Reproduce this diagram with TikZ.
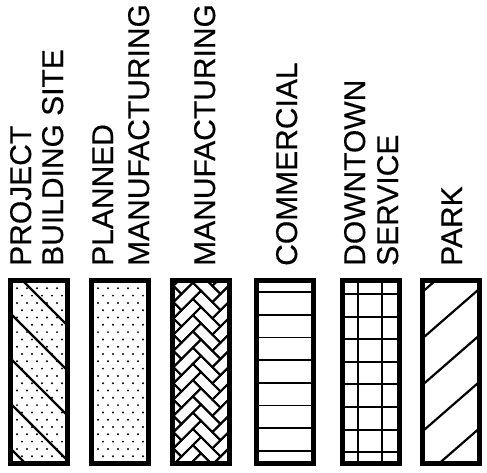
\documentclass[tikz,border=0pt]{standalone}
\usepackage{fontspec}
\setmainfont{Liberation Sans}[FakeBold=0.4]
\begin{document}
\begin{tikzpicture}[x=1pt,y=-1pt,
  lbl/.style={rotate=90,anchor=base west,inner sep=0pt,font=\fontsize{30}{34}\selectfont},
  frame/.style={draw=black,line width=5pt,fill=none},
  hatch/.style={line width=2.3pt,line cap=butt},
  dot/.style={fill=black}]
\useasboundingbox (0,0) rectangle (487,472);

% ---------- labels ----------
\node[lbl] (t1a) at (31,266) {PROJECT};
\node[lbl] (t1b) at (63,266) {BUILDING SITE};
\node[lbl] (t2a) at (113,266) {PLANNED};
\node[lbl] (t2b) at (149,266) {MANUFACTURING};
\node[lbl] (t3) at (215,266) {MANUFACTURING};
\node[lbl] (t4) at (297,266) {COMMERCIAL};
\node[lbl] (t5a) at (365,266) {DOWNTOWN};
\node[lbl] (t5b) at (398,266) {SERVICE};
\node[lbl] (t6) at (462,266) {PARK};

% ---------- box 1: project building site ----------
\begin{scope}[shift={(8,278)}]
  \begin{scope}
    \clip (5,5) rectangle (57,183);
    \foreach \r in {0,...,25}{
      \pgfmathsetmacro{\vv}{3+\r*7.3}
      \pgfmathsetmacro{\oo}{mod(\r,2)*5}
      \foreach \c in {0,...,6}{
        \fill[dot] ({4+\oo+\c*10},\vv) circle (1.1);
      }
    }
    \foreach \k in {0,...,4}{
      \pgfmathsetmacro{\cc}{12-45*\k}
      \draw[hatch] (\cc,0) -- ({\cc+220},220);
    }
  \end{scope}
  \draw[frame] (2.5,2.5) rectangle (59.5,185.5);
\end{scope}

% ---------- box 2: planned manufacturing ----------
\begin{scope}[shift={(89,278)}]
  \begin{scope}
    \clip (5,5) rectangle (57,183);
    \foreach \r in {0,...,25}{
      \pgfmathsetmacro{\vv}{3+\r*7.3}
      \pgfmathsetmacro{\oo}{mod(\r,2)*5}
      \foreach \c in {0,...,6}{
        \fill[dot] ({4+\oo+\c*10},\vv) circle (1.1);
      }
    }
  \end{scope}
  \draw[frame] (2.5,2.5) rectangle (59.5,185.5);
\end{scope}

% ---------- box 3: manufacturing (herringbone) ----------
\begin{scope}[shift={(170,278)}]
  \begin{scope}
    \clip (5,5) rectangle (57,183);
    \begin{scope}[shift={(31,94)},rotate=-45]
      \foreach \i in {-12,...,12}{
        \foreach \j in {-5,...,5}{
          \pgfmathsetmacro{\ox}{11.5*\i+27.6*\j}
          \pgfmathsetmacro{\oy}{11.5*\i-27.6*\j}
          \draw[line width=2pt] (\ox,\oy) rectangle ({\ox+27.6},{\oy+11.5});
          \draw[line width=2pt] (\ox,{\oy+11.5}) rectangle ({\ox+11.5},{\oy+39.1});
        }
      }
    \end{scope}
  \end{scope}
  \draw[frame] (2.5,2.5) rectangle (59.5,185.5);
\end{scope}

% ---------- box 4: commercial ----------
\begin{scope}[shift={(254,278)}]
  \foreach \k in {0,...,7}{
    \draw[line width=1.6pt] (4,{14+22.7*\k}) -- (58,{14+22.7*\k});
  }
  \draw[frame] (2.5,2.5) rectangle (59.5,185.5);
\end{scope}

% ---------- box 5: downtown service ----------
\begin{scope}[shift={(340,278)}]
  \foreach \k in {0,...,7}{
    \draw[line width=2pt] (4,{16+22.6*\k}) -- (58,{16+22.6*\k});
  }
  \draw[line width=2pt] (18,4) -- (18,184);
  \draw[line width=2pt] (42,4) -- (42,184);
  \draw[frame] (2.5,2.5) rectangle (59.5,185.5);
\end{scope}

% ---------- box 6: park ----------
\begin{scope}[shift={(420,278)}]
  \begin{scope}
    \clip (5,5) rectangle (57,183);
    \foreach \k in {0,...,4}{
      \pgfmathsetmacro{\cc}{16+46.5*\k}
      \draw[hatch,line width=2.2pt] (0,\cc) -- (70,{\cc-60.9});
    }
  \end{scope}
  \draw[frame] (2.5,2.5) rectangle (59.5,185.5);
\end{scope}
\end{tikzpicture}
\end{document}
